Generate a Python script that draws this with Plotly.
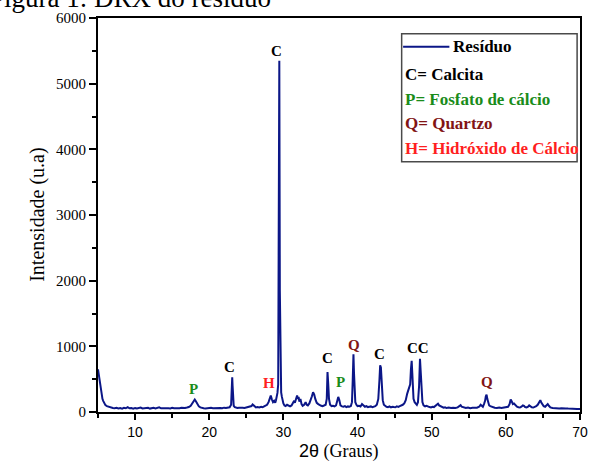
import plotly.graph_objects as go

# Diffractogram of the residue: 2θ (degrees) and intensity (a.u.)
two_theta = [
    5.0, 5.1, 5.2, 5.3, 5.4, 5.5, 5.6, 5.7, 5.8, 5.9, 6.0, 6.2, 6.4, 6.6, 6.8, 7.0,
    7.25, 7.5, 7.75, 8.0, 8.25, 8.5, 8.75, 9.0, 9.25, 9.5, 9.75, 10.0, 10.25, 10.5,
    10.75, 11.0, 11.25, 11.5, 11.75, 12.0, 12.25, 12.5, 12.75, 13.0, 13.25, 13.5,
    13.75, 14.0, 14.25, 14.5, 14.75, 15.0, 15.25, 15.5, 15.75, 16.0, 16.25, 16.5,
    16.75, 17.0, 17.25, 17.5, 17.7, 17.9, 18.05, 18.2, 18.4, 18.6, 18.8, 19.0, 19.25,
    19.5, 19.75, 20.0, 20.25, 20.5, 20.75, 21.0, 21.25, 21.5, 21.75, 22.0, 22.25,
    22.5, 22.75, 22.95, 23.05, 23.1, 23.15, 23.2, 23.3, 23.45, 23.6, 23.8, 24.0,
    24.25, 24.5, 24.75, 25.0, 25.25, 25.5, 25.7, 25.85, 25.95, 26.1, 26.3, 26.5,
    26.75, 27.0, 27.2, 27.4, 27.6, 27.8, 28.0, 28.15, 28.3, 28.45, 28.6, 28.75,
    28.9, 29.0, 29.1, 29.2, 29.3, 29.38, 29.45, 29.52, 29.56, 29.62, 29.7, 29.8,
    29.9, 30.0, 30.15, 30.3, 30.5, 30.7, 30.9, 31.1, 31.3, 31.45, 31.55, 31.7,
    31.85, 31.95, 32.05, 32.15, 32.3, 32.45, 32.6, 32.8, 33.0, 33.15, 33.3, 33.5,
    33.7, 33.85, 34.0, 34.15, 34.3, 34.5, 34.7, 34.9, 35.1, 35.3, 35.5, 35.7,
    35.85, 35.95, 36.05, 36.15, 36.3, 36.5, 36.7, 36.9, 37.1, 37.25, 37.4, 37.55,
    37.7, 37.9, 38.1, 38.3, 38.5, 38.7, 38.9, 39.1, 39.25, 39.35, 39.45, 39.52,
    39.6, 39.7, 39.85, 40.0, 40.2, 40.4, 40.6, 40.8, 41.0, 41.2, 41.4, 41.6, 41.8,
    42.0, 42.2, 42.4, 42.6, 42.8, 42.95, 43.05, 43.15, 43.25, 43.4, 43.55, 43.7,
    43.9, 44.1, 44.3, 44.5, 44.7, 44.9, 45.1, 45.3, 45.5, 45.7, 45.9, 46.1, 46.3,
    46.5, 46.7, 46.85, 47.0, 47.1, 47.2, 47.3, 47.38, 47.45, 47.55, 47.7, 47.85,
    48.0, 48.15, 48.3, 48.42, 48.5, 48.6, 48.75, 48.9, 49.1, 49.3, 49.5, 49.7,
    49.9, 50.1, 50.3, 50.5, 50.7, 50.85, 51.0, 51.2, 51.4, 51.6, 51.8, 52.0, 52.3,
    52.6, 52.9, 53.2, 53.5, 53.75, 53.9, 54.05, 54.3, 54.6, 54.9, 55.2, 55.5, 55.8,
    56.1, 56.4, 56.6, 56.75, 56.9, 57.05, 57.2, 57.3, 57.4, 57.5, 57.6, 57.75,
    57.9, 58.1, 58.3, 58.5, 58.8, 59.1, 59.4, 59.7, 60.0, 60.3, 60.5, 60.65, 60.8,
    60.95, 61.1, 61.3, 61.5, 61.7, 61.9, 62.1, 62.3, 62.45, 62.6, 62.8, 63.0,
    63.15, 63.3, 63.5, 63.7, 63.9, 64.1, 64.3, 64.5, 64.65, 64.8, 64.95, 65.1,
    65.3, 65.5, 65.65, 65.8, 66.0, 66.3, 66.6, 66.9, 67.2, 67.5, 67.8, 68.1, 68.4,
    68.7, 69.0, 69.3, 69.6, 70.0,
]
intensity = [
    650, 560, 470, 380, 310, 250, 200, 170, 140, 120, 105, 90, 80, 70, 66, 62,
    58, 64, 55, 60, 52, 63, 57, 75, 56, 60, 52, 62, 55, 58,
    68, 54, 60, 56, 63, 52, 58, 64, 55, 60, 70, 56,
    59, 53, 62, 57, 55, 63, 58, 54, 61, 57, 64, 59,
    62, 68, 75, 95, 130, 170, 190, 165, 120, 85, 70, 62, 58,
    55, 60, 56, 63, 58, 61, 55, 64, 60, 57, 66, 60,
    63, 72, 110, 330, 530, 400, 180, 95, 75, 68, 62, 66,
    60, 64, 62, 70, 68, 75, 90, 115, 105, 80, 70, 74,
    68, 80, 72, 85, 100, 110, 150, 210, 250, 190, 150, 170,
    140, 180, 240, 290, 420, 3900, 5350, 1850, 1400, 500, 300, 230,
    170, 130, 100, 90, 110, 95, 85, 100, 130, 170, 140, 190,
    250, 200, 230, 160, 200, 120, 95, 110, 150, 110, 100, 130,
    180, 240, 300, 270, 200, 140, 120, 100, 95, 90, 100, 110,
    200, 610, 420, 200, 110, 90, 95, 85, 100, 160, 230, 180,
    100, 85, 80, 90, 75, 85, 80, 90, 150, 480, 880, 600,
    300, 150, 110, 90, 95, 85, 120, 95, 80, 90, 75, 80, 85,
    75, 80, 90, 110, 200, 480, 710, 680, 420, 180, 110, 90,
    80, 75, 85, 70, 80, 75, 72, 85, 78, 90, 95, 110, 130,
    180, 280, 330, 360, 420, 650, 780, 600, 350, 200, 150, 120,
    110, 150, 400, 810, 650, 320, 150, 100, 85, 95, 80, 75,
    70, 80, 75, 90, 110, 125, 100, 85, 70, 65, 72, 60, 68,
    60, 66, 62, 70, 85, 105, 80, 65, 60, 68, 58, 64, 60,
    66, 80, 110, 95, 80, 120, 170, 240, 265, 200, 140, 100,
    90, 80, 72, 66, 62, 68, 60, 64, 70, 80, 120, 190, 160,
    120, 130, 95, 80, 72, 68, 80, 100, 95, 75, 70, 80,
    100, 85, 72, 68, 75, 90, 110, 150, 180, 140, 110, 90,
    80, 110, 120, 95, 70, 62, 55, 58, 52, 56, 50, 55, 52,
    48, 54, 50, 46, 45,
]

# Phase identification labels placed above the peaks
peak_phase = ["P", "C", "H", "C", "C", "P", "Q", "C", "CC", "Q"]
peak_x = [17.9, 22.8, 28.1, 29.1, 35.9, 37.7, 39.5, 43.0, 48.2, 57.5]
peak_y = [350, 690, 440, 5500, 820, 455, 1015, 880, 970, 460]

# Legend entries for the phases
phase_keys = ["C", "P", "Q", "H"]
phase_names = ["C= Calcita", "P= Fosfato de cálcio", "Q= Quartzo", "H= Hidróxido de Cálcio"]

phase_colors = {"C": "#000000", "P": "#1a8c1a", "Q": "#821414", "H": "#ff1f1f"}
line_color = "#0b1687"
serif = "Liberation Serif, Times New Roman, serif"
sans = "Liberation Sans, Arial, sans-serif"

fig = go.Figure()
fig.add_trace(go.Scatter(
    x=two_theta, y=intensity, mode="lines", name="Resíduo",
    line=dict(color=line_color, width=2), showlegend=False,
))

annotations = []
for txt, px, py in zip(peak_phase, peak_x, peak_y):
    annotations.append(dict(
        x=px, y=py, xref="x", yref="y", text=f"<b>{txt}</b>", showarrow=False,
        font=dict(family=serif, size=15, color=phase_colors[txt[0]]),
    ))

# Legend box (drawn manually so the phase key sits inside it)
leg_x0, leg_x1, leg_y0, leg_y1 = 0.630, 0.994, 0.635, 0.960
shapes = [
    dict(type="rect", xref="paper", yref="paper", x0=leg_x0, x1=leg_x1, y0=leg_y0, y1=leg_y1,
         line=dict(color="#4a4a4a", width=1.5), fillcolor="white", layer="above"),
    dict(type="line", xref="paper", yref="paper", x0=0.633, x1=0.729, y0=0.927, y1=0.927,
         line=dict(color=line_color, width=2)),
]
annotations.append(dict(
    x=0.733, y=0.927, xref="paper", yref="paper", xanchor="left", yanchor="middle",
    text="<b>Resíduo</b>", showarrow=False, font=dict(family=serif, size=17, color="black"),
))
row_y = [0.8557, 0.7942, 0.7312, 0.6683]
for key, name, ry in zip(phase_keys, phase_names, row_y):
    annotations.append(dict(
        x=0.632, y=ry, xref="paper", yref="paper", xanchor="left", yanchor="middle",
        text=f"<b>{name}</b>", showarrow=False,
        font=dict(family=serif, size=17, color=phase_colors[key]),
    ))

# Axis titles and the figure caption
annotations.append(dict(
    x=-0.155, y=0.5, xref="paper", yref="paper", textangle=-90, showarrow=False,
    text="Intensidade (u.a)", font=dict(family=serif, size=20, color="black"),
))
annotations.append(dict(
    x=0.5, y=-0.133, xref="paper", yref="paper", showarrow=False,
    text="<span style='font-family:Liberation Sans'>2θ</span> (Graus)",
    font=dict(family=serif, size=18, color="black"),
))
annotations.append(dict(
    x=-0.231, y=1.05, xref="paper", yref="paper", xanchor="left", yanchor="middle",
    showarrow=False, text="Figura 1: DRX do resíduo",
    font=dict(family=serif, size=27, color="black"),
))

fig.update_layout(
    width=598, height=473,
    margin=dict(l=98, r=10, t=15, b=61),
    paper_bgcolor="white", plot_bgcolor="white",
    shapes=shapes, annotations=annotations,
    xaxis=dict(
        range=[5, 70], tickvals=[10, 20, 30, 40, 50, 60, 70], ticks="outside",
        ticklen=6, tickwidth=1.5, tickcolor="black",
        minor=dict(tickvals=[5, 15, 25, 35, 45, 55, 65], ticks="outside", ticklen=4,
                   tickwidth=1.5, tickcolor="black"),
        showline=True, linecolor="black", linewidth=2, mirror=True,
        showgrid=False, zeroline=False,
        tickfont=dict(family=sans, size=14, color="black"),
    ),
    yaxis=dict(
        range=[0, 6000], tickvals=[0, 1000, 2000, 3000, 4000, 5000, 6000], ticks="outside",
        ticklen=7, tickwidth=1.5, tickcolor="black",
        minor=dict(tickvals=[500, 1500, 2500, 3500, 4500, 5500], ticks="outside", ticklen=4,
                   tickwidth=1.5, tickcolor="black"),
        showline=True, linecolor="black", linewidth=2, mirror=True,
        showgrid=False, zeroline=False,
        tickfont=dict(family=serif, size=15, color="black"),
    ),
)

fig.write_html("out.html")
